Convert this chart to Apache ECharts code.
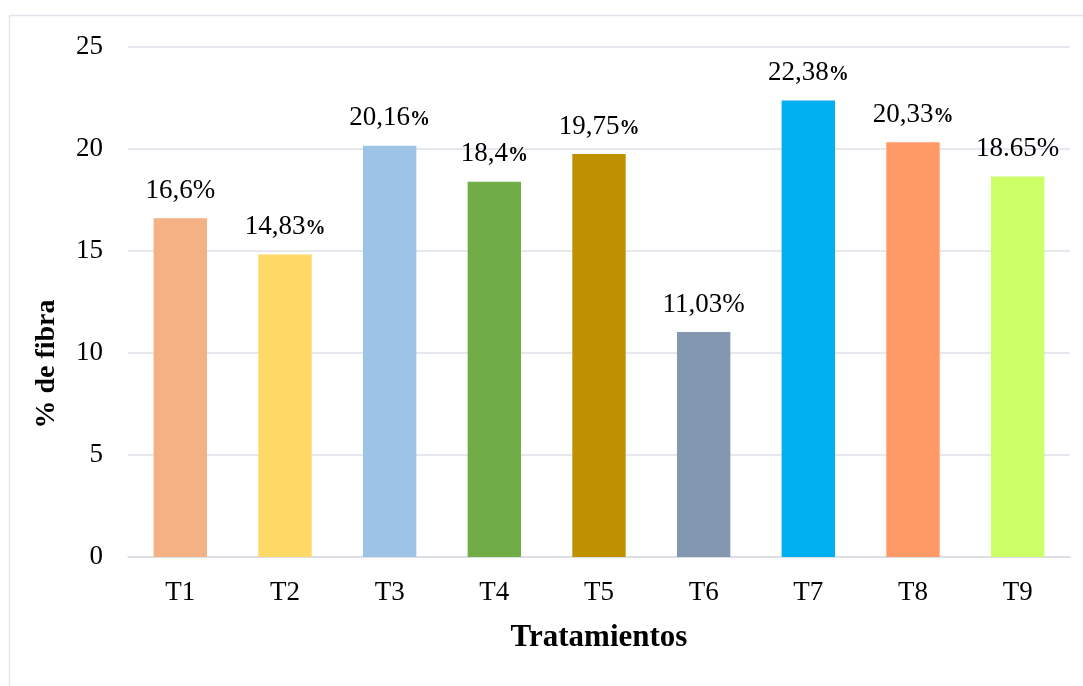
<!DOCTYPE html>
<html>
<head>
<meta charset="utf-8">
<script src="https://cdn.jsdelivr.net/npm/echarts@6/dist/echarts.min.js"></script>
<style>
  html, body { margin: 0; padding: 0; background: #fff; }
  #chart { width: 1083px; height: 686px; }
</style>
</head>
<body>
<div id="chart"></div>
<script>
// treatments and fibre percentages
var categories = ['T1', 'T2', 'T3', 'T4', 'T5', 'T6', 'T7', 'T8', 'T9'];
var fibra = [16.6, 14.83, 20.16, 18.4, 19.75, 11.03, 22.38, 20.33, 18.65];
var labelText = ['16,6', '14,83', '20,16', '18,4', '19,75', '11,03', '22,38', '20,33', '18.65'];
// true where the % sign is drawn small and bold
var smallPct = [false, true, true, true, true, false, true, true, false];
var barColors = ['#F4B183', '#FFD966', '#9DC3E6', '#70AD47', '#BF9000', '#8497B0', '#00B0F0', '#FF9966', '#CCFF66'];
var yTicks = [0, 5, 10, 15, 20, 25];

var font = '"Liberation Serif", "Times New Roman", serif';

var chart = echarts.init(document.getElementById('chart'));

var data = fibra.map(function (v, i) {
    return {
        value: v,
        itemStyle: { color: barColors[i] },
        label: {
            formatter: smallPct[i] ? '{n|' + labelText[i] + '}{p|%}' : '{n|' + labelText[i] + '%}'
        }
    };
});

chart.setOption({
    animation: false,
    backgroundColor: '#fff',
    graphic: [{
        type: 'rect',
        shape: { x: 9.5, y: 15.5, width: 1100, height: 700 },
        style: { fill: 'none', stroke: '#E3E6EC', lineWidth: 1.5 },
        silent: true
    }, {
        // y axis title sits a bit below the plot centre, as in the original
        type: 'text',
        x: 47,
        y: 364,
        rotation: Math.PI / 2,
        style: {
            text: '% de fibra',
            fill: '#000',
            font: 'bold 28px ' + font,
            textAlign: 'center',
            textVerticalAlign: 'middle'
        },
        silent: true
    }],
    grid: { left: 128, right: 13, top: 47, bottom: 129 },
    xAxis: {
        type: 'category',
        data: categories,
        axisLine: { lineStyle: { color: '#D9DDE4', width: 1.5 } },
        axisTick: { show: false },
        axisLabel: { color: '#000', fontFamily: font, fontSize: 27, margin: 22 },
        name: 'Tratamientos',
        nameLocation: 'middle',
        nameGap: 65,
        nameTextStyle: { color: '#000', fontFamily: font, fontSize: 31, fontWeight: 'bold' }
    },
    yAxis: {
        type: 'value',
        min: yTicks[0],
        max: yTicks[yTicks.length - 1],
        interval: 5,
        axisLine: { show: false },
        axisTick: { show: false },
        splitLine: { lineStyle: { color: '#DCE0E8', width: 1.5 } },
        axisLabel: { color: '#000', fontFamily: font, fontSize: 27, margin: 25 }
    },
    series: [{
        type: 'bar',
        data: data,
        barWidth: '51%',
        label: {
            show: true,
            position: 'top',
            distance: 14,
            rich: {
                n: { color: '#000', fontFamily: font, fontSize: 27 },
                p: { color: '#000', fontFamily: font, fontSize: 20, fontWeight: 'bold', padding: [4, 0, 0, 0] }
            }
        }
    }]
});
</script>
</body>
</html>
